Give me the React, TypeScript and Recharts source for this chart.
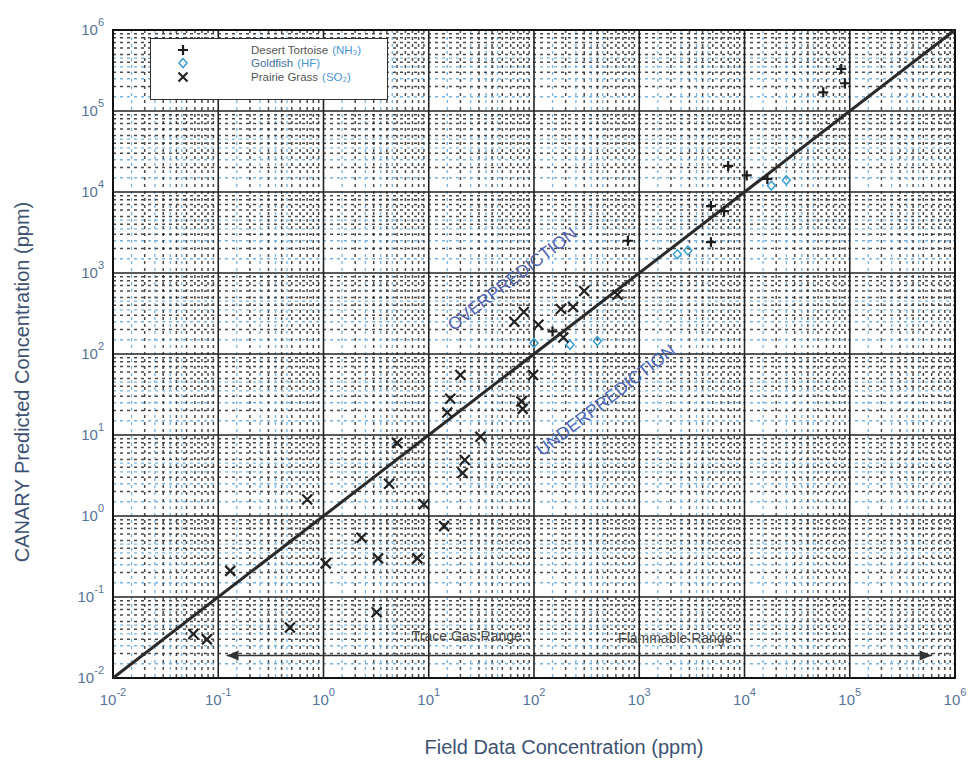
import React from 'react';
import {
  ScatterChart, Scatter, XAxis, YAxis, CartesianGrid, ReferenceLine,
  ReferenceDot, ReferenceArea, Legend, Label
} from 'recharts';

const DECADES = [0.01, 0.1, 1, 10, 100, 1000, 1e4, 1e5, 1e6];
const MINOR_STEPS = [2, 3, 4, 5, 6, 7, 8, 9];
const FINE_STEPS = [1.5, 2.5, 3.5, 4.5];

// Desert Tortoise (NH3)
const nh3Field = [150, 780, 4800, 6400, 4800, 7000, 10500, 16500, 56000, 83000, 90000];
const nh3Pred = [190, 2500, 6700, 5800, 2400, 21000, 16000, 14500, 170000, 330000, 220000];

// Goldfish (HF)
const hfField = [100, 220, 400, 2300, 2900, 18000, 25000];
const hfPred = [137, 130, 145, 1700, 1900, 12000, 14000];

// Prairie Grass (SO2)
const so2Field = [0.058, 0.078, 0.13, 0.48, 0.7, 1.05, 2.3, 3.3, 3.2, 4.2, 5, 7.8, 9, 14, 15, 16, 20, 21, 22, 31, 76, 78, 98, 65, 80, 110, 190, 180, 235, 300, 620];
const so2Pred = [0.035, 0.03, 0.21, 0.042, 1.6, 0.26, 0.54, 0.3, 0.065, 2.5, 8, 0.3, 1.4, 0.75, 19, 28, 55, 3.4, 4.9, 9.5, 26, 21, 55, 250, 330, 230, 160, 360, 380, 600, 540];

const toPoints = (xs: number[], ys: number[]) => xs.map((x, i) => ({ x, y: ys[i] }));

const nh3Data = toPoints(nh3Field, nh3Pred);
const hfData = toPoints(hfField, hfPred);
const so2Data = toPoints(so2Field, so2Pred);

const minorVals = DECADES.slice(0, -1).flatMap(d => MINOR_STEPS.map(s => d * s));
const fineVals = DECADES.slice(0, -1).flatMap(d => FINE_STEPS.map(s => d * s));

const FONT = '"Liberation Sans", Arial, sans-serif';
const TICK_COLOR = '#56739a';
const TITLE_COLOR = '#3d5273';
const DIAG_ANGLE = -37.6;

const PlusShape = (p: any) => (
  <path d={`M${p.cx - 5},${p.cy}h10M${p.cx},${p.cy - 5}v10`} stroke="#1c1c1c" strokeWidth={2.2} fill="none" />
);
const CrossShape = (p: any) => (
  <path d={`M${p.cx - 5},${p.cy - 5}l10,10M${p.cx - 5},${p.cy + 5}l10,-10`} stroke="#222" strokeWidth={2.2} fill="none" />
);
const DiamondShape = (p: any) => (
  <path d={`M${p.cx},${p.cy - 4.5}l4,4.5l-4,4.5l-4,-4.5z`} stroke="#3a9fd0" strokeWidth={1.5} fill="none" />
);

const XTick = ({ x, y, payload }: any) => {
  const exp = Math.round(Math.log10(payload.value));
  return (
    <text x={x} y={y + 19} textAnchor="middle" fill={TICK_COLOR} fontSize={15} fontFamily={FONT}>
      10<tspan dy={-9} fontSize={11}>{exp}</tspan>
    </text>
  );
};

const YTick = ({ x, y, payload }: any) => {
  const exp = Math.round(Math.log10(payload.value));
  return (
    <text x={x - 1} y={y + 5} textAnchor="end" fill={TICK_COLOR} fontSize={15} fontFamily={FONT}>
      10<tspan dy={-9} fontSize={11}>{exp}</tspan>
    </text>
  );
};

const rotatedText = (text: string, size: number, color: string) => (p: any) => (
  <text
    x={p.cx} y={p.cy} textAnchor="middle" dominantBaseline="central"
    transform={`rotate(${DIAG_ANGLE}, ${p.cx}, ${p.cy})`}
    fill={color} fontSize={size} fontFamily={FONT}
  >
    {text}
  </text>
);

const plainText = (text: string) => (p: any) => (
  <text x={p.cx} y={p.cy} textAnchor="middle" dominantBaseline="central" fill="#4a4a4a" fontSize={14} fontFamily={FONT}>
    {text}
  </text>
);

const ArrowLeft = (p: any) => (
  <path d={`M${p.cx},${p.cy}l12,-5v10z`} fill="#333" />
);
const ArrowRight = (p: any) => (
  <path d={`M${p.cx},${p.cy}l-12,-5v10z`} fill="#333" />
);

const LegendBox = () => {
  const rows = [
    { mark: <path d="M3,8h10M8,3v10" stroke="#1c1c1c" strokeWidth={2.2} />, name: 'Desert Tortoise', nameColor: '#555', gas: '(NH₃)' },
    { mark: <path d="M8,3.5l4,4.5l-4,4.5l-4,-4.5z" stroke="#3a9fd0" strokeWidth={1.5} fill="none" />, name: 'Goldfish', nameColor: '#3f6f9f', gas: '(HF)' },
    { mark: <path d="M3.5,3.5l9,9M3.5,12.5l9,-9" stroke="#222" strokeWidth={2.2} />, name: 'Prairie Grass', nameColor: '#555', gas: '(SO₂)' },
  ];
  return (
    <div style={{
      width: 238, height: 62, border: '1.5px solid #333', background: '#fff',
      boxSizing: 'border-box', paddingTop: 4, fontFamily: FONT, fontSize: 11.5
    }}>
      {rows.map(r => (
        <div key={r.name} style={{ display: 'flex', alignItems: 'center', height: 13.5 }}>
          <svg width={16} height={16} style={{ marginLeft: 24 }}>{r.mark}</svg>
          <span style={{ marginLeft: 60, color: r.nameColor }}>{r.name} </span>
          <span style={{ marginLeft: 4, color: '#4a95d6' }}>{r.gas}</span>
        </div>
      ))}
    </div>
  );
};

const XTitle = ({ viewBox }: any) => (
  <text x={viewBox.x + viewBox.width / 2 + 30} y={viewBox.y + 76} textAnchor="middle"
    fill={TITLE_COLOR} fontSize={20} fontFamily={FONT}>
    Field Data Concentration (ppm)
  </text>
);

const YTitle = ({ viewBox }: any) => {
  const cx = viewBox.x + 14;
  const cy = viewBox.y + viewBox.height / 2 + 28;
  return (
    <text x={cx} y={cy} textAnchor="middle" dominantBaseline="central"
      transform={`rotate(-90, ${cx}, ${cy})`} fill={TITLE_COLOR} fontSize={20} fontFamily={FONT}>
      CANARY Predicted Concentration (ppm)
    </text>
  );
};

const App: React.FC = () => {
  return (
    <div style={{ width: 960, height: 752, background: '#fff' }}>
      <ScatterChart width={960} height={752} margin={{ top: 22, right: 13, left: 0, bottom: 2 }}
        style={{ fontFamily: FONT }}>
        <CartesianGrid horizontalValues={fineVals} verticalValues={fineVals}
          stroke="#78b2e0" strokeDasharray="3 4" strokeWidth={1.3} />
        <CartesianGrid horizontalValues={minorVals} verticalValues={minorVals}
          stroke="#2a2a2a" strokeDasharray="3 4" strokeWidth={1.5} strokeOpacity={0.85} />
        <CartesianGrid horizontalValues={DECADES} verticalValues={DECADES}
          stroke="#222" strokeWidth={1.6} />
        <XAxis dataKey="x" type="number" scale="log" domain={[0.01, 1e6]} ticks={DECADES}
          allowDataOverflow interval={0} axisLine={false} tickLine={false} tick={<XTick />} height={80}>
          <Label content={<XTitle />} />
        </XAxis>
        <YAxis dataKey="y" type="number" scale="log" domain={[0.01, 1e6]} ticks={DECADES}
          allowDataOverflow interval={0} axisLine={false} tickLine={false} tick={<YTick />} width={105}>
          <Label content={<YTitle />} />
        </YAxis>
        <ReferenceArea x1={0.01} x2={1e6} y1={0.01} y2={1e6} fill="none" stroke="#111" strokeWidth={2} fillOpacity={0} />
        <ReferenceLine segment={[{ x: 0.01, y: 0.01 }, { x: 1e6, y: 1e6 }]} stroke="#2a2a2a" strokeWidth={3} />
        <ReferenceLine segment={[{ x: 0.12, y: 0.019 }, { x: 6e5, y: 0.019 }]} stroke="#333" strokeWidth={1.5} />
        <ReferenceDot x={0.12} y={0.019} shape={ArrowLeft} />
        <ReferenceDot x={6e5} y={0.019} shape={ArrowRight} />
        <ReferenceDot x={23} y={0.033} shape={plainText('Trace Gas Range')} />
        <ReferenceDot x={2200} y={0.031} shape={plainText('Flammable Range')} />
        <ReferenceDot x={62} y={850} shape={rotatedText('OVERPREDICTION', 17.5, '#5162b0')} />
        <ReferenceDot x={480} y={27} shape={rotatedText('UNDERPREDICTION', 17.5, '#4a66b4')} />
        <Scatter name="Desert Tortoise (NH₃)" data={nh3Data} shape={PlusShape} isAnimationActive={false} />
        <Scatter name="Goldfish (HF)" data={hfData} shape={DiamondShape} isAnimationActive={false} />
        <Scatter name="Prairie Grass (SO₂)" data={so2Data} shape={CrossShape} isAnimationActive={false} />
        <Legend layout="horizontal" verticalAlign="middle" align="center" content={<LegendBox />}
          wrapperStyle={{ top: 30, left: 142, width: 238 }} />
      </ScatterChart>
    </div>
  );
};

export default App;
